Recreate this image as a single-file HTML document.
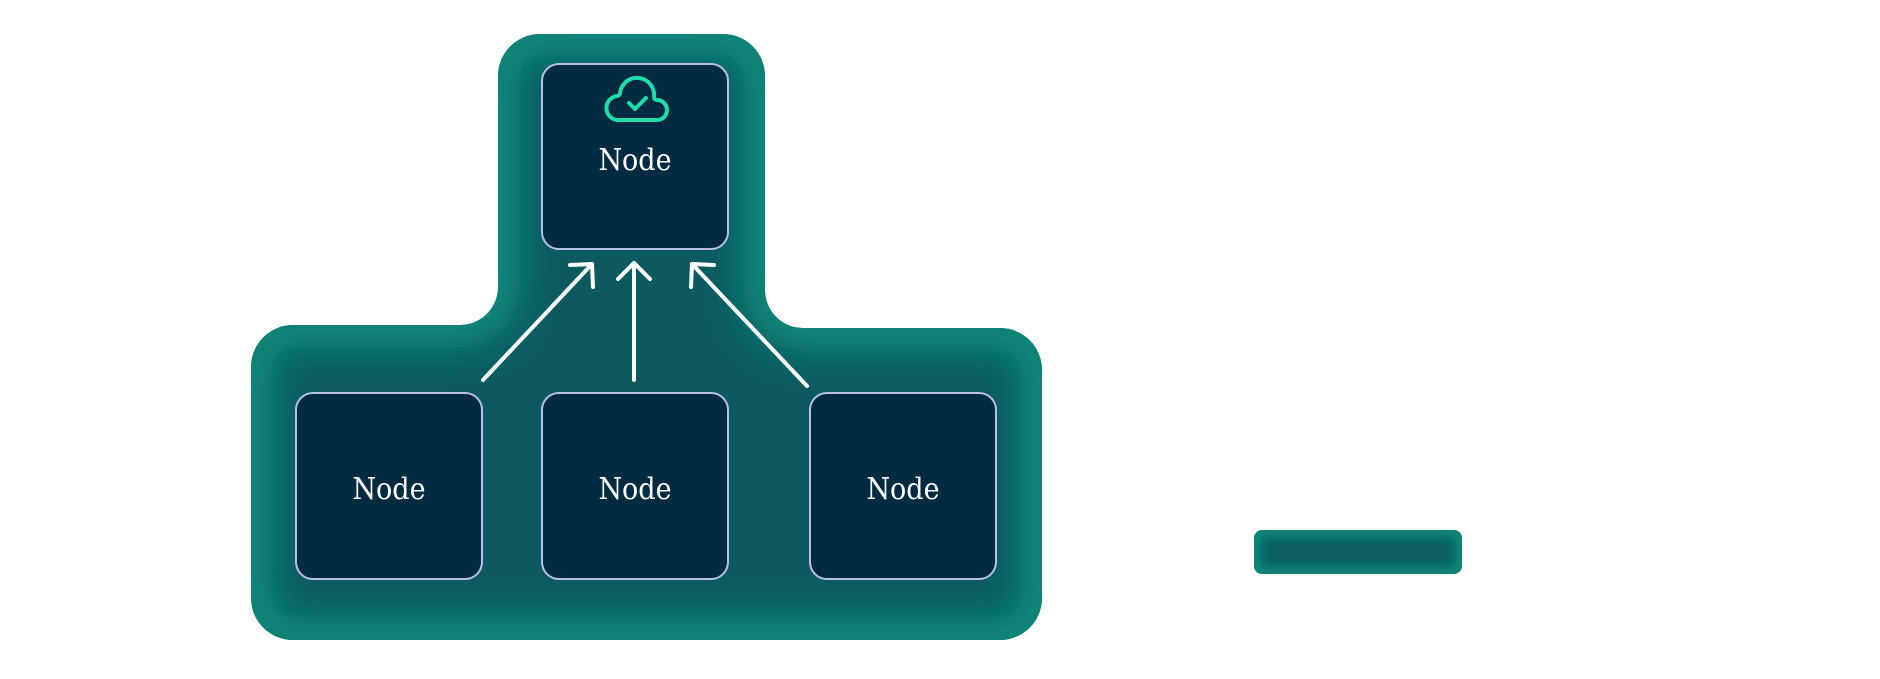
<!DOCTYPE html>
<html><head><meta charset="utf-8"><style>
body{margin:0;background:#fff;width:1880px;height:674px;overflow:hidden}
</style></head><body>
<svg width="1880" height="674" viewBox="0 0 1880 674" xmlns="http://www.w3.org/2000/svg">
<defs>
<clipPath id="c"><path d="M540,34 H723 A42,42 0 0 1 765,76 V290 A38,38 0 0 0 803,328 H1000 A42,42 0 0 1 1042,370 V598 A42,42 0 0 1 1000,640 H293 A42,42 0 0 1 251,598 V367 A42,42 0 0 1 293,325 H460 A38,38 0 0 0 498,287 V76 A42,42 0 0 1 540,34 Z"/></clipPath>
<clipPath id="c2"><rect x="1254" y="530" width="208" height="44" rx="8"/></clipPath>
<filter id="b" x="-20%" y="-20%" width="140%" height="140%"><feGaussianBlur stdDeviation="18"/></filter>
<filter id="b2" x="-20%" y="-50%" width="140%" height="200%"><feGaussianBlur stdDeviation="6"/></filter>
</defs>
<g clip-path="url(#c)">
<rect x="240" y="20" width="820" height="640" fill="#0c5a60"/>
<path d="M540,34 H723 A42,42 0 0 1 765,76 V290 A38,38 0 0 0 803,328 H1000 A42,42 0 0 1 1042,370 V598 A42,42 0 0 1 1000,640 H293 A42,42 0 0 1 251,598 V367 A42,42 0 0 1 293,325 H460 A38,38 0 0 0 498,287 V76 A42,42 0 0 1 540,34 Z" fill="none" stroke="#0b8c7c" stroke-width="44" filter="url(#b)"/>
</g>
<g clip-path="url(#c2)">
<rect x="1254" y="530" width="208" height="44" fill="#0c5c62"/>
<rect x="1254" y="530" width="208" height="44" rx="8" fill="none" stroke="#0b8c7c" stroke-width="14" filter="url(#b2)"/>
</g>
<g fill="#022b41" stroke="#b8bfe6" stroke-width="2">
<rect x="542" y="64" width="186" height="185" rx="17"/>
<rect x="296" y="393" width="186" height="186" rx="17"/>
<rect x="542" y="393" width="186" height="186" rx="17"/>
<rect x="810" y="393" width="186" height="186" rx="17"/>
</g>
<g fill="#fff" font-family="'DejaVu Serif Condensed','DejaVu Serif','Liberation Serif',serif" font-size="30" text-anchor="middle">
<text x="635" y="170">Node</text>
<text x="389" y="499">Node</text>
<text x="635" y="499">Node</text>
<text x="903" y="499">Node</text>
</g>
<g fill="none" stroke="#1fdcaa" stroke-width="4" stroke-linecap="round" stroke-linejoin="round">
<path d="M620,120 H657 A10,10 0 0 0 657,100 A3,3 0 0 1 654,97 A17,17 0 0 0 620,93 A3,3 0 0 1 617,96 A12,12 0 0 0 620,120 Z"/>
<path d="M629,103 L635,109 L646,98"/>
</g>
<g fill="none" stroke="#fff" stroke-width="4" stroke-linecap="round" stroke-linejoin="round">
<path d="M483,380 L592,264"/><path d="M570,265 L592,264 L593,287"/>
<path d="M634,380 V263"/><path d="M618,279 L634,263 L650,279"/>
<path d="M807,386 L692,264"/><path d="M691,287 L692,264 L714,265"/>
</g>
</svg>
</body></html>
